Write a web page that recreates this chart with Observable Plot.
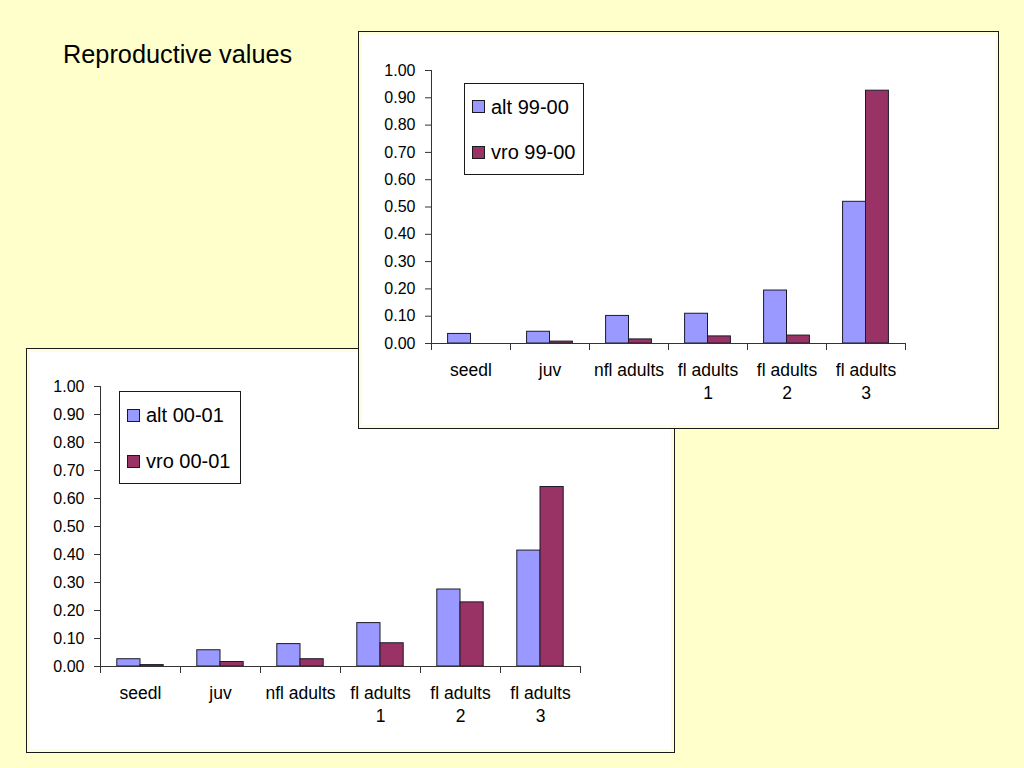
<!DOCTYPE html>
<html>
<head>
<meta charset="utf-8">
<script src="https://cdn.jsdelivr.net/npm/d3@7"></script>
<script src="https://cdn.jsdelivr.net/npm/@observablehq/plot@0.6"></script>
<style>
  html, body { margin: 0; padding: 0; }
  body { width: 1024px; height: 768px; background: #FFFFCC; position: relative; overflow: hidden;
         font-family: "Liberation Sans", Arial, sans-serif; color: #000; }
  .abs { position: absolute; }
  .panel { position: absolute; box-sizing: border-box; border: 1px solid #1a1a1a; background: #fff;
           box-shadow: inset 0 0 0 3px #fdfde2; }
  .legend { position: absolute; box-sizing: border-box; border: 1px solid #1a1a1a; background: #fff; }
  .sw { position: absolute; box-sizing: border-box; width: 13px; height: 13px; border: 1px solid #1a1a1a; }
  .lt { position: absolute; font-size: 20px; line-height: 20px; white-space: nowrap; }
  .title { position: absolute; left: 63px; top: 42px; font-size: 25.3px; line-height: 25px; white-space: nowrap; }
</style>
</head>
<body>
<div class="title">Reproductive values</div>
<div id="panelB" class="panel" style="left:26px; top:348px; width:649px; height:405px; z-index:1;"></div>
<div id="panelA" class="panel" style="left:358px; top:31px; width:641px; height:398px; z-index:2;"></div>
<div id="chartB" class="abs" style="left:31px; top:352px; z-index:1;"></div>
<div id="chartA" class="abs" style="left:362px; top:36px; z-index:3;"></div>
<div id="legA" class="abs" style="left:0; top:0; z-index:4;"></div>
<div id="legB" class="abs" style="left:0; top:0; z-index:1;"></div>
<script>
// ---- data ----
const categories = ["seedl", "juv", "nfl adults", "fl adults\n1", "fl adults\n2", "fl adults\n3"];
const seriesTop = ["alt 99-00", "vro 99-00"];
const seriesBottom = ["alt 00-01", "vro 00-01"];
const alt9900 = [0.035, 0.043, 0.101, 0.109, 0.194, 0.519];
const vro9900 = [0.000, 0.007, 0.015, 0.026, 0.029, 0.926];
const alt0001 = [0.026, 0.058, 0.080, 0.155, 0.275, 0.414];
const vro0001 = [0.005, 0.016, 0.026, 0.083, 0.229, 0.641];
const yTicks = [0, 0.1, 0.2, 0.3, 0.4, 0.5, 0.6, 0.7, 0.8, 0.9, 1.0];

const altColor = "#9999FF";
const vroColor = "#993366";
const axisColor = "#333333";
const fontFamily = "'Liberation Sans', Arial, sans-serif";

function makeChart({alt, vro, width, height, mL, mR, mT, mB}) {
  const data = categories.map((c, i) => ({cat: c, alt: alt[i], vro: vro[i]}));
  const bw = (width - mL - mR) / categories.length;
  const ph = height - mT - mB;
  return Plot.plot({
    width, height,
    marginLeft: mL, marginRight: mR, marginTop: mT, marginBottom: mB,
    style: {background: "transparent", fontFamily, color: "#000", overflow: "visible"},
    x: {domain: categories, padding: 0, axis: null},
    y: {domain: [0, 1], axis: null},
    marks: [
      Plot.barY(data, {x: "cat", y: "alt", fill: altColor, stroke: "#1a1a2a", strokeWidth: 1,
                       insetLeft: bw * 0.21, insetRight: bw * 0.50}),
      Plot.barY(data, {x: "cat", y: "vro", fill: vroColor, stroke: "#1a1a2a", strokeWidth: 1,
                       insetLeft: bw * 0.50, insetRight: bw * 0.21}),
      Plot.ruleY([0], {stroke: axisColor}),
      Plot.ruleX([categories[0]], {x: d => d, dx: -bw / 2, insetBottom: -7, stroke: axisColor}),
      Plot.ruleX(categories, {x: d => d, dx: bw / 2, insetTop: ph, insetBottom: -7, stroke: axisColor}),
      Plot.axisY({ticks: yTicks, tickFormat: d3.format(".2f"), tickSize: 6, tickPadding: 10,
                  fontSize: 16, label: null, stroke: axisColor}),
      Plot.axisX({tickSize: 0, tickPadding: 17, fontSize: 17.5, lineHeight: 1.28, label: null})
    ]
  });
}

document.getElementById("chartA").append(
  makeChart({alt: alt9900, vro: vro9900, width: 600, height: 386, mL: 69, mR: 57, mT: 34, mB: 79})
);
document.getElementById("chartB").append(
  makeChart({alt: alt0001, vro: vro0001, width: 600, height: 396, mL: 69, mR: 51, mT: 34, mB: 82})
);

function makeLegend(el, names, box, swatchTops, textTops, swLeft, textLeft) {
  const b = document.createElement("div");
  b.className = "legend";
  Object.assign(b.style, {left: box[0] + "px", top: box[1] + "px", width: box[2] + "px", height: box[3] + "px"});
  el.append(b);
  [altColor, vroColor].forEach((col, i) => {
    const s = document.createElement("div");
    s.className = "sw";
    Object.assign(s.style, {left: swLeft + "px", top: swatchTops[i] + "px", background: col});
    el.append(s);
    const t = document.createElement("div");
    t.className = "lt";
    t.textContent = names[i];
    Object.assign(t.style, {left: textLeft + "px", top: textTops[i] + "px"});
    el.append(t);
  });
}
makeLegend(document.getElementById("legA"), seriesTop, [464, 83, 120, 92], [100, 146], [97, 142], 472, 491);
makeLegend(document.getElementById("legB"), seriesBottom, [119, 391, 122, 93], [409, 455], [405, 451], 127, 146);
</script>
</body>
</html>
